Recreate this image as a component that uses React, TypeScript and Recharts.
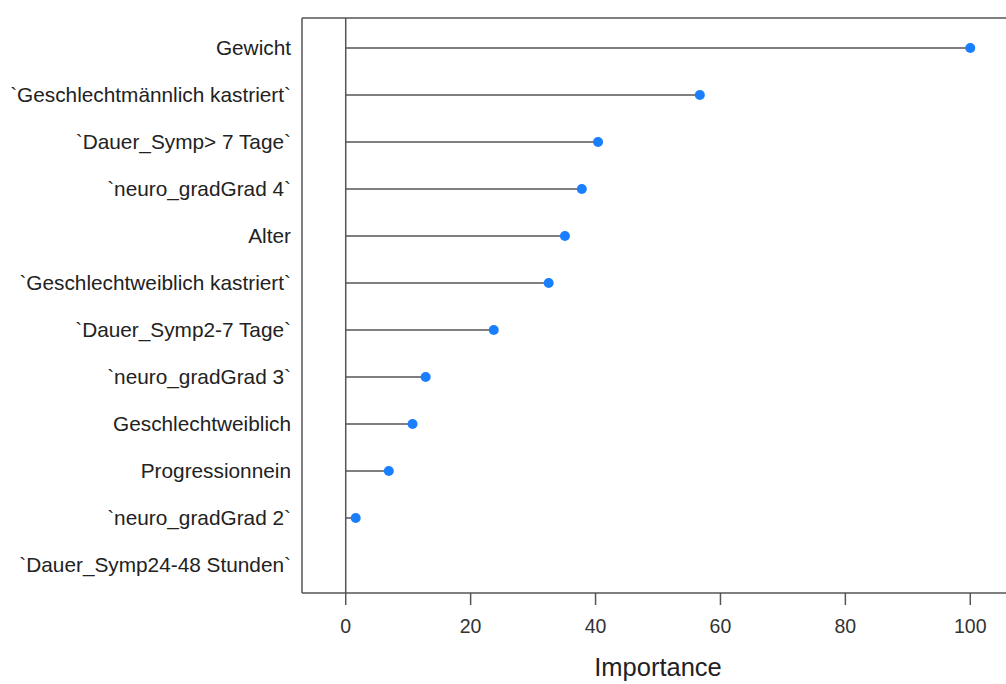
import { ComposedChart, Bar, XAxis, YAxis, ReferenceLine } from "recharts";

const variables = [
  "Gewicht",
  "`Geschlechtmännlich kastriert`",
  "`Dauer_Symp> 7 Tage`",
  "`neuro_gradGrad 4`",
  "Alter",
  "`Geschlechtweiblich kastriert`",
  "`Dauer_Symp2-7 Tage`",
  "`neuro_gradGrad 3`",
  "Geschlechtweiblich",
  "Progressionnein",
  "`neuro_gradGrad 2`",
  "`Dauer_Symp24-48 Stunden`",
];

const importance: (number | null)[] = [100, 56.7, 40.4, 37.8, 35.1, 32.5, 23.7, 12.8, 10.7, 6.9, 1.6, null];

const xTicks = [0, 20, 40, 60, 80, 100];

const data = variables.map((name, i) => ({ name, value: importance[i] }));

const FONT = "'Liberation Sans', Arial, Helvetica, sans-serif";
const LINE = "#555";
const DOT = "#1a7fff";

const Lollipop = (props: any) => {
  const { x, y, width, height } = props;
  if (x == null || width == null) return null;
  const cy = y + height / 2;
  return (
    <g>
      <line x1={x} x2={x + width} y1={cy} y2={cy} stroke={LINE} strokeWidth={1.5} />
      <circle cx={x + width} cy={cy} r={5} fill={DOT} />
    </g>
  );
};

const App = () => {
  return (
    <div
      style={{
        position: "fixed",
        top: 0,
        left: 0,
        width: 1006,
        height: 684,
        overflow: "hidden",
        background: "#fff",
      }}
    >
      <ComposedChart
        width={1030}
        height={684}
        data={data}
        layout="vertical"
        margin={{ top: 0, right: 16, bottom: 0, left: 0 }}
        style={{ fontFamily: FONT }}
      >
        <XAxis
          type="number"
          domain={[-7, 107]}
          ticks={xTicks}
          height={91}
          tickSize={12}
          tickMargin={14}
          axisLine={{ stroke: LINE, strokeWidth: 1.5 }}
          tickLine={{ stroke: LINE, strokeWidth: 1.5 }}
          tick={{ fill: "#333", fontSize: 19.5 }}
          label={{ value: "Importance", position: "insideBottom", offset: 8, fill: "#222", fontSize: 25.5 }}
        />
        <XAxis
          xAxisId="top"
          type="number"
          orientation="top"
          domain={[-7, 107]}
          ticks={xTicks}
          height={18}
          tickSize={13}
          tick={false}
          axisLine={{ stroke: LINE, strokeWidth: 1.5 }}
          tickLine={{ stroke: LINE, strokeWidth: 1.5 }}
        />
        <YAxis
          type="category"
          dataKey="name"
          width={302}
          padding={{ top: 6, bottom: 5 }}
          tickLine={false}
          tickSize={0}
          tickMargin={11}
          interval={0}
          axisLine={{ stroke: LINE, strokeWidth: 1.5 }}
          tick={{ fill: "#222", fontSize: 20.8 }}
        />
        <ReferenceLine x={0} stroke={LINE} strokeWidth={1.5} />
        <Bar dataKey="value" barSize={10} shape={Lollipop} isAnimationActive={false} />
      </ComposedChart>
    </div>
  );
};

export default App;
